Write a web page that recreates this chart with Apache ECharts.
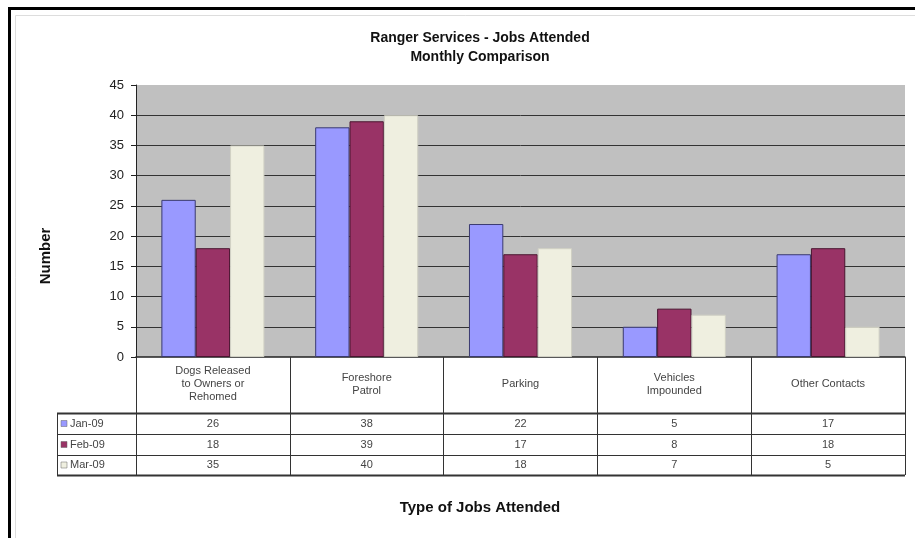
<!DOCTYPE html>
<html><head><meta charset="utf-8">
<script src="https://cdn.jsdelivr.net/npm/echarts@6/dist/echarts.min.js"></script>
<style>html,body{margin:0;padding:0;background:#fff}#c{width:915px;height:538px}</style>
</head><body><div id="c"></div>
<script>
const categories = ['Dogs Released\nto Owners or\nRehomed', 'Foreshore\nPatrol', 'Parking', 'Vehicles\nImpounded', 'Other Contacts'];
const seriesNames = ['Jan-09', 'Feb-09', 'Mar-09'];
const jan = [26, 38, 22, 5, 17];
const feb = [18, 39, 17, 8, 18];
const mar = [35, 40, 18, 7, 5];
const colors = ['#9999FF', '#993366', '#EFEFE0'];
const borders = ['#3a3a70', '#4a1530', '#d0d0c4'];
const values = [jan, feb, mar];

const G = {left: 136, top: 85, right: 905, bottom: 357};
const rowLines = [413, 434, 455, 475];
const rowMargins = [67, 88, 108];
const font = 'Liberation Sans, Arial, sans-serif';

const chart = echarts.init(document.getElementById('c'));

const xAxes = [{
  type: 'category', data: categories, gridIndex: 0, position: 'bottom',
  axisLine: {show: true, lineStyle: {color: '#222', width: 1.5}},
  axisTick: {show: true, length: 118, lineStyle: {color: '#333'}},
  axisLabel: {interval: 0, verticalAlign: 'middle', margin: 27, fontSize: 11, lineHeight: 13,
              color: '#444', fontFamily: font, align: 'center'},
  splitLine: {show: false}
}];
values.forEach((v, i) => {
  xAxes.push({
    type: 'category', data: v.map(String), gridIndex: 0, position: 'bottom',
    axisLine: {show: false}, axisTick: {show: false}, splitLine: {show: false},
    axisLabel: {interval: 0, verticalAlign: 'middle', margin: rowMargins[i], fontSize: 11,
                color: '#444', fontFamily: font}
  });
});

const graphics = [
  {type: 'rect', shape: {x: G.left, y: G.top, width: G.right - G.left, height: G.bottom - G.top}, style: {fill: '#C0C0C0'}, z: -10},
  {type: 'line', shape: {x1: 8, y1: 8.5, x2: 915, y2: 8.5}, style: {stroke: '#000', lineWidth: 3}},
  {type: 'line', shape: {x1: 9.5, y1: 7, x2: 9.5, y2: 538}, style: {stroke: '#000', lineWidth: 3}},
  {type: 'rect', shape: {x: 15.5, y: 15.5, width: 905, height: 530}, style: {fill: 'none', stroke: '#ddd', lineWidth: 1}},
  {type: 'line', shape: {x1: 57.5, y1: rowLines[0], x2: 57.5, y2: rowLines[3]}, style: {stroke: '#333', lineWidth: 1}},
  {type: 'text', rotation: Math.PI / 2, x: 46, y: 256, style: {text: 'Number', fontSize: 15, fontWeight: 'bold', fill: '#111', fontFamily: font, textAlign: 'center', textVerticalAlign: 'middle'}},
  {type: 'text', x: 480, y: 508, style: {text: 'Type of Jobs Attended', fontSize: 15, fontWeight: 'bold', fill: '#111', fontFamily: font, textAlign: 'center', textVerticalAlign: 'middle'}}
];
rowLines.forEach((y, i) => {
  graphics.push({type: 'line', shape: {x1: 57, y1: y + 0.5, x2: G.right, y2: y + 0.5},
    style: {stroke: '#333', lineWidth: (i === 0 || i === 3) ? 2 : 1}});
});
seriesNames.forEach((n, i) => {
  const cy = (rowLines[i] + rowLines[i + 1]) / 2;
  graphics.push({type: 'rect', shape: {x: 61, y: cy - 3, width: 6, height: 6}, style: {fill: colors[i], stroke: '#666', lineWidth: 0.5}});
  graphics.push({type: 'text', x: 70, y: cy, style: {text: n, fontSize: 11, fill: '#444', fontFamily: font, textAlign: 'left', textVerticalAlign: 'middle'}});
});

chart.setOption({
  animation: false,
  backgroundColor: '#fff',
  title: {text: 'Ranger Services - Jobs Attended\nMonthly Comparison', left: 475, textAlign: 'center', top: 24,
    textStyle: {fontSize: 14, fontWeight: 'bold', color: '#111', lineHeight: 19, fontFamily: font}},
  grid: {left: G.left, top: G.top, width: G.right - G.left, height: G.bottom - G.top, containLabel: false},
  xAxis: xAxes,
  yAxis: {type: 'value', min: 0, max: 45, interval: 5,
    axisLine: {show: true, lineStyle: {color: '#222'}},
    axisTick: {show: true, length: 5, lineStyle: {color: '#222'}},
    axisLabel: {fontSize: 13, color: '#222', margin: 12, fontFamily: font},
    splitLine: {show: true, showMaxLine: false, showMinLine: false, lineStyle: {color: '#333', width: 1}}},
  series: seriesNames.map((n, i) => ({
    name: n, type: 'bar', xAxisIndex: 0, data: values[i],
    barGap: '0%', barCategoryGap: '33%',
    itemStyle: {color: colors[i], borderColor: borders[i], borderWidth: 1}
  })),
  graphic: graphics
});
</script></body></html>
